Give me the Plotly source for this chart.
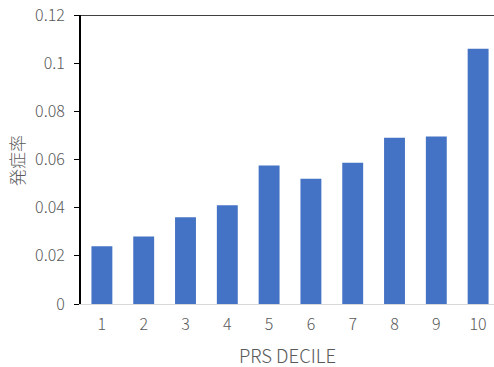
import plotly.graph_objects as go

deciles = [1, 2, 3, 4, 5, 6, 7, 8, 9, 10]
rates = [0.024, 0.028, 0.036, 0.041, 0.0575, 0.052, 0.0587, 0.069, 0.0696, 0.106]
y_ticks = [0, 0.02, 0.04, 0.06, 0.08, 0.1, 0.12]
y_tick_labels = ["0", "0.02", "0.04", "0.06", "0.08", "0.1", "0.12"]

font_family = "Noto Sans CJK JP, Noto Sans, sans-serif"
gray = "#595959"

fig = go.Figure()
fig.add_trace(go.Bar(x=deciles, y=rates, width=0.5, marker=dict(color="#4472C4", line=dict(width=0))))

fig.update_layout(
    width=494, height=367,
    margin=dict(l=81, r=0, t=15, b=63),
    paper_bgcolor="white", plot_bgcolor="white",
    showlegend=False,
    font=dict(family=font_family, color=gray, size=16, weight=300),
    xaxis=dict(range=[0.5, 10.38], tickmode="array", tickvals=deciles, ticktext=[str(d) for d in deciles],
               showgrid=False, showline=True, linecolor="#d9d9d9", linewidth=1,
               ticks="outside", ticklen=6, tickcolor="rgba(0,0,0,0)", zeroline=False,
               tickfont=dict(size=16, color=gray, weight=300)),
    yaxis=dict(range=[0, 0.12], tickmode="array", tickvals=y_ticks, ticktext=y_tick_labels,
               showgrid=False, showline=True, linecolor="black", linewidth=2,
               ticks="outside", ticklen=5, tickcolor="black", tickwidth=1, zeroline=False,
               ticklabelstandoff=6,
               tickfont=dict(size=16, color=gray, weight=300)),
    shapes=[dict(type="line", xref="paper", yref="y", x0=0, x1=1, y0=0.12, y1=0.12,
                 line=dict(color="#404040", width=2))],
    annotations=[
        dict(text="PRS DECILE", xref="paper", yref="paper", x=(287-81)/413, y=-(355-304)/289,
             showarrow=False, xanchor="center", yanchor="middle", font=dict(size=18.5, color=gray, weight=300)),
        dict(text="発症率", xref="paper", yref="paper", x=-(81-16)/413, y=(304-161)/289,
             showarrow=False, xanchor="center", yanchor="middle", textangle=-90,
             font=dict(size=17, color=gray, weight=300)),
    ],
)

fig.write_html("out.html", config={"displayModeBar": False},
               post_script="document.body.style.margin='0';document.body.style.overflow='hidden';")
